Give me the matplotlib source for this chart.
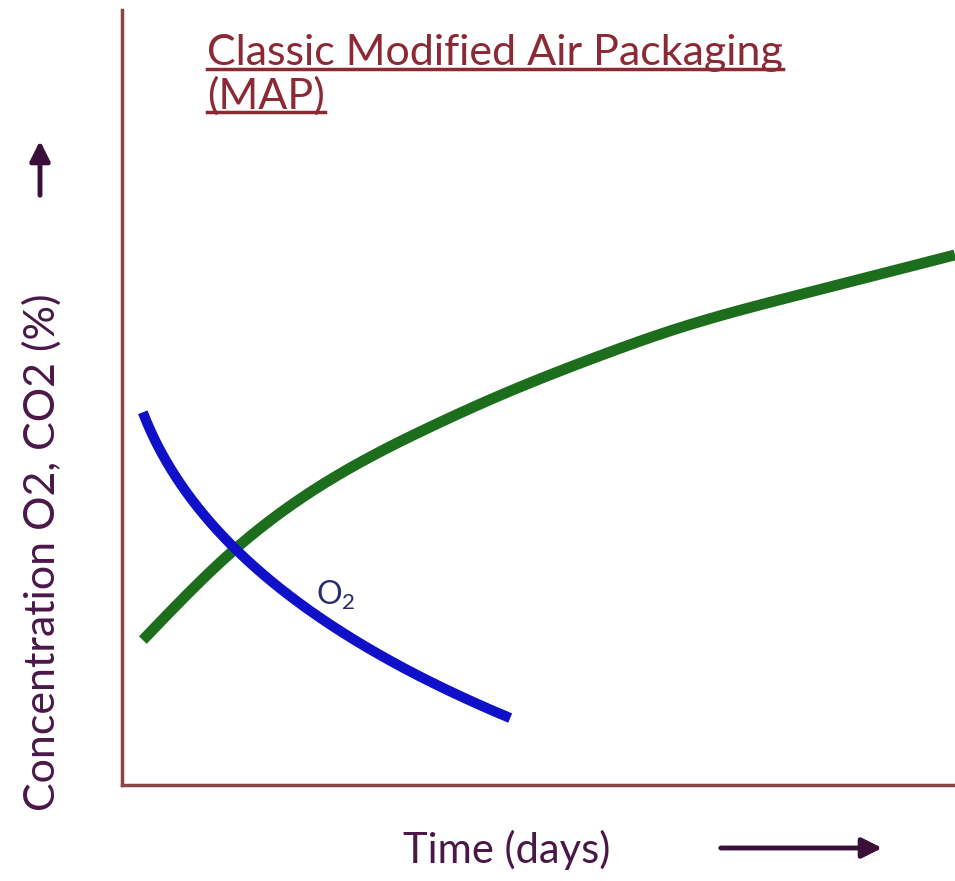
import numpy as np
import matplotlib
matplotlib.use("Agg")
import matplotlib.pyplot as plt
from matplotlib.lines import Line2D
from matplotlib.patches import FancyArrowPatch

plt.rcParams['font.family'] = ['Lato', 'DejaVu Sans']
plt.rcParams['mathtext.fontset'] = 'custom'
plt.rcParams['mathtext.rm'] = 'Lato'
plt.rcParams['mathtext.it'] = 'Lato:italic'

# CO2 curve (rising) and O2 curve (falling), time in arbitrary days, conc in %
co2_t = [0.25, 1.30, 2.50, 3.70, 4.50, 5.74, 6.61, 8.22, 10.0]
co2_c = [18.7, 29.9, 39.4, 46.2, 50.1, 55.4, 58.7, 63.5, 68.4]

o2_t = [0.25, 0.70, 1.30, 1.90, 2.50, 3.10, 3.70, 4.30, 4.66]
o2_c = [47.5, 40.3, 30.7, 24.8, 20.4, 17.0, 13.5, 10.6, 8.4]

title = "Classic Modified Air Packaging\n(MAP)"
xlabel = "Time (days)"
ylabel = "Concentration O2, CO2 (%)"

W, H = 955, 881
fig = plt.figure(figsize=(W / 100, H / 100), dpi=100)
ax = fig.add_axes([122 / W, 1 - 785 / H, (W - 122) / W, (785 - 10) / H])


def spline(x, y, n=300):
    # natural cubic spline through the read points
    x = np.asarray(x, float)
    y = np.asarray(y, float)
    k = len(x)
    h = np.diff(x)
    A = np.zeros((k, k))
    b = np.zeros(k)
    A[0, 0] = A[-1, -1] = 1
    for i in range(1, k - 1):
        A[i, i - 1] = h[i - 1]
        A[i, i] = 2 * (h[i - 1] + h[i])
        A[i, i + 1] = h[i]
        b[i] = 3 * ((y[i + 1] - y[i]) / h[i] - (y[i] - y[i - 1]) / h[i - 1])
    c = np.linalg.solve(A, b)
    xs = np.linspace(x[0], x[-1], n)
    idx = np.clip(np.searchsorted(x, xs) - 1, 0, k - 2)
    dx = xs - x[idx]
    bb = (y[idx + 1] - y[idx]) / h[idx] - h[idx] * (2 * c[idx] + c[idx + 1]) / 3
    d = (c[idx + 1] - c[idx]) / (3 * h[idx])
    return xs, y[idx] + bb * dx + c[idx] * dx ** 2 + d * dx ** 3


def smooth(x, y, n=300):
    # least-squares fit in sqrt(t), only to draw a clean curve through the read points
    x = np.asarray(x, float)
    p = np.polyfit(np.sqrt(x), y, 2)
    xs = np.linspace(x[0], x[-1], n)
    return xs, np.polyval(p, np.sqrt(xs))


gx, gy = spline(co2_t, co2_c)
bx, by = smooth(o2_t, o2_c)
ax.plot(gx, gy, color='#1c6e1c', lw=7.8, solid_capstyle='butt', zorder=3)
ax.plot(bx, by, color='#1010c8', lw=7.3, solid_capstyle='butt', zorder=4)

ax.text(2.33, 23.3, r"O$_2$", color='#2a2a70', fontsize=23, zorder=5)

ax.set_xlim(0, 10)
ax.set_ylim(0, 100)
ax.set_xticks([])
ax.set_yticks([])
for s in ['top', 'right']:
    ax.spines[s].set_visible(False)
for s in ['left', 'bottom']:
    ax.spines[s].set_color('#8a4548')
    ax.spines[s].set_linewidth(2.5)

tcol = '#8b2a35'
tfs = 31
tx, ty = 207, 34
fig.text(tx / W, 1 - ty / H, title, color=tcol, fontsize=tfs,
         ha='left', va='top', linespacing=1.12)

txtcol = '#4a1848'
fig.text(507 / W, 1 - 850 / H, xlabel, color=txtcol, fontsize=30,
         ha='center', va='center')
fig.text(42 / W, 1 - 552 / H, ylabel, color=txtcol, fontsize=31,
         ha='center', va='center', rotation=90)

arrow = dict(arrowstyle='-|>,head_length=0.6,head_width=0.3', color='#3a0f3a', lw=3.5)
fig.add_artist(FancyArrowPatch(
    (718 / W, 1 - 848 / H), (885 / W, 1 - 848 / H), transform=fig.transFigure,
    mutation_scale=20, **arrow))
fig.add_artist(FancyArrowPatch(
    (40 / W, 1 - 198 / H), (40 / W, 1 - 138 / H), transform=fig.transFigure,
    mutation_scale=20, **arrow))

# underline each title line
fig.canvas.draw()
r = fig.canvas.get_renderer()
lines = title.split("\n")
for i, line in enumerate(lines):
    tmp = fig.text(tx / W, 1 - ty / H, "\n".join(lines[:i + 1]), fontsize=tfs,
                   ha='left', va='top', linespacing=1.12, alpha=0)
    bb = tmp.get_window_extent(r)
    lb = fig.text(0, 0, line, fontsize=tfs, alpha=0).get_window_extent(r)
    y0 = bb.y0 + 3
    fig.add_artist(Line2D([tx, tx + lb.width], [y0, y0], color=tcol,
                          lw=2.5, transform=None))

fig.savefig("out.png", dpi=100)
